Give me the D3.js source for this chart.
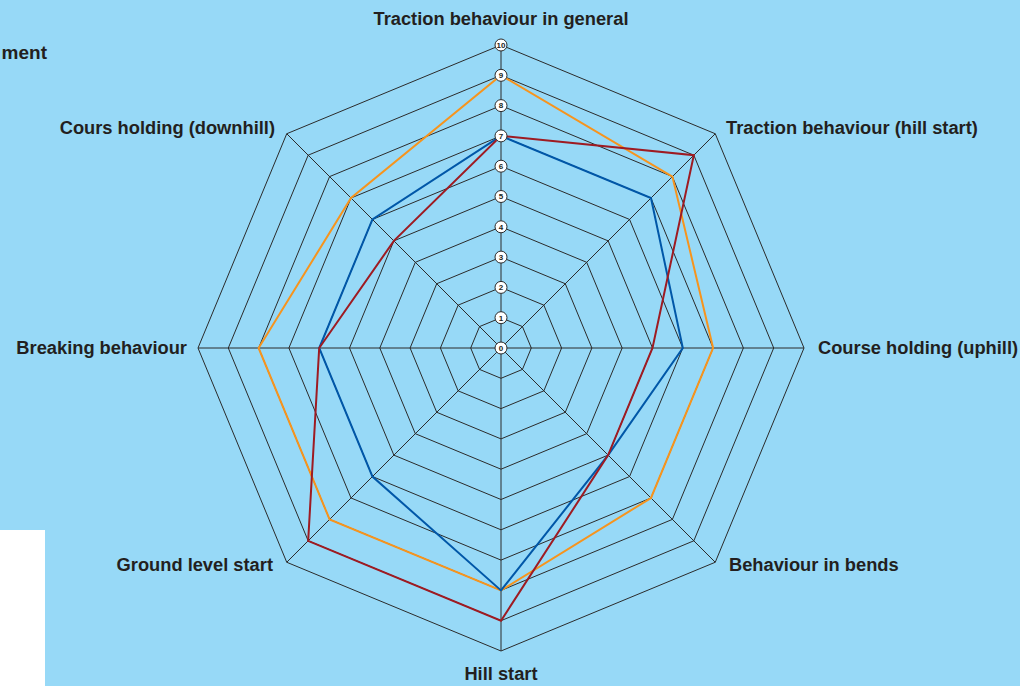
<!DOCTYPE html>
<html>
<head>
<meta charset="utf-8">
<script src="https://cdn.jsdelivr.net/npm/d3@7"></script>
<style>
  body { margin: 0; background: #97d9f7; }
  svg { display: block; }
  text { font-family: "Liberation Sans", Arial, sans-serif; font-weight: bold; fill: #231f20; }
</style>
</head>
<body>
<div id="chart"></div>
<script>
// axes, clockwise from the top
var categories = [
    "Traction behaviour in general",
    "Traction behaviour (hill start)",
    "Course holding (uphill)",
    "Behaviour in bends",
    "Hill start",
    "Ground level start",
    "Breaking behaviour",
    "Cours holding (downhill)"
];
var ticks = [0, 1, 2, 3, 4, 5, 6, 7, 8, 9, 10];

// series
var orangeValues = [9, 8, 7, 7, 8, 8, 8, 7];
var blueValues   = [7, 7, 6, 5, 8, 6, 6, 6];
var redValues    = [7, 9, 5, 5, 9, 9, 6, 5];

var series = [
    { name: "orange", values: orangeValues, color: "#f7941d" },
    { name: "blue",   values: blueValues,   color: "#0057a8" },
    { name: "red",    values: redValues,    color: "#9e1b22" }
];

var width = 1020, height = 686;
var cx = 501, cy = 348, outer = 303;

var svg = d3.select("#chart").append("svg")
    .attr("width", width).attr("height", height);

svg.append("rect").attr("width", width).attr("height", height).attr("fill", "#97d9f7");

// bits of the page around the chart
svg.append("text").attr("x", 47).attr("y", 59).attr("text-anchor", "end")
    .style("font-size", "19px").text("ment");
svg.append("rect").attr("x", 0).attr("y", 530).attr("width", 45).attr("height", 156).attr("fill", "#fff");

var r = d3.scaleLinear().domain([0, 10]).range([0, outer]);
var angle = d3.scaleLinear().domain([0, categories.length]).range([0, 2 * Math.PI]);

var px = function (i, v) { return cx + r(v) * Math.sin(angle(i)); };
var py = function (i, v) { return cy - r(v) * Math.cos(angle(i)); };

var g = svg.append("g");

// rings
ticks.slice(1).forEach(function (t) {
    var pts = categories.map(function (c, i) { return [px(i, t), py(i, t)]; });
    g.append("polygon")
        .attr("points", pts.map(function (p) { return p.join(","); }).join(" "))
        .attr("fill", "none").attr("stroke", "#2b2b2b").attr("stroke-width", 1);
});

// spokes
g.selectAll("line.spoke").data(categories).enter().append("line")
    .attr("class", "spoke")
    .attr("x1", cx).attr("y1", cy)
    .attr("x2", function (d, i) { return px(i, 10); })
    .attr("y2", function (d, i) { return py(i, 10); })
    .attr("stroke", "#2b2b2b").attr("stroke-width", 1);

// data lines
var line = d3.lineRadial()
    .angle(function (d, i) { return angle(i); })
    .radius(function (d) { return r(d); })
    .curve(d3.curveLinearClosed);

svg.append("g").attr("transform", "translate(" + cx + "," + cy + ")")
    .selectAll("path").data(series).enter().append("path")
    .attr("d", function (d) { return line(d.values); })
    .attr("fill", "none")
    .attr("stroke", function (d) { return d.color; })
    .attr("stroke-width", 2)
    .attr("stroke-linejoin", "miter");

// tick bubbles on the top axis
var tk = svg.append("g").selectAll("g").data(ticks).enter().append("g")
    .attr("transform", function (d) { return "translate(" + cx + "," + (cy - r(d)) + ")"; });
tk.append("circle").attr("r", 6).attr("fill", "#fff").attr("stroke", "#2b2b2b").attr("stroke-width", 1);
tk.append("text").attr("text-anchor", "middle").attr("dy", "0.35em")
    .style("font-size", "8px").text(function (d) { return d; });

// axis labels
var labelPos = [
    { x: 501, y: 19, anchor: "middle" },
    { x: 726, y: 128, anchor: "start" },
    { x: 818, y: 348, anchor: "start" },
    { x: 729, y: 565, anchor: "start" },
    { x: 501, y: 674, anchor: "middle" },
    { x: 273, y: 565, anchor: "end" },
    { x: 187, y: 348, anchor: "end" },
    { x: 275, y: 128, anchor: "end" }
];
svg.append("g").selectAll("text").data(categories).enter().append("text")
    .attr("x", function (d, i) { return labelPos[i].x; })
    .attr("y", function (d, i) { return labelPos[i].y; })
    .attr("dy", "0.35em")
    .attr("text-anchor", function (d, i) { return labelPos[i].anchor; })
    .style("font-size", "18.3px")
    .text(function (d) { return d; });
</script>
</body>
</html>
